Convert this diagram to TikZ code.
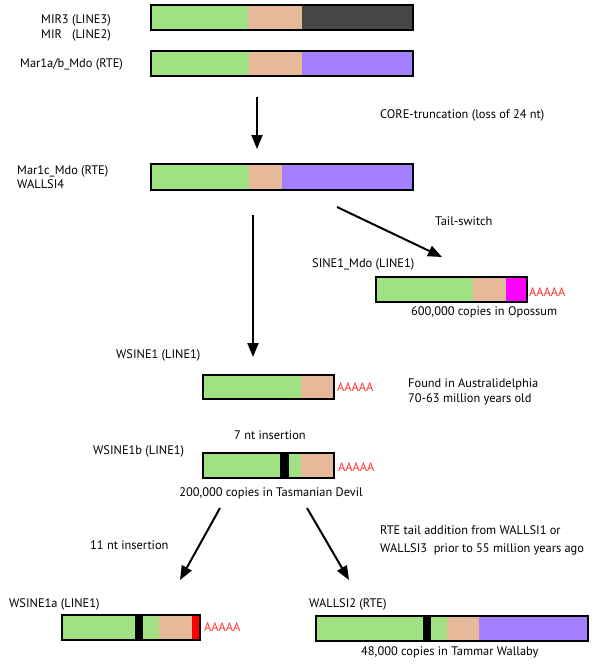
\documentclass[tikz,border=0pt]{standalone}
\usepackage{fontspec}
\setmainfont{PT Sans}
\usetikzlibrary{arrows.meta}
\definecolor{segGreen}{HTML}{A0E183}
\definecolor{segTan}{HTML}{E6BA98}
\definecolor{segGrey}{HTML}{464646}
\definecolor{segPurple}{HTML}{A47FFF}
\definecolor{segPink}{HTML}{FF00FF}
\definecolor{segRed}{HTML}{FF0000}
\definecolor{polyA}{HTML}{FF3030}
\tikzset{
    bar frame/.style={draw=black, line width=1.4pt},
    seg green/.style={fill=segGreen},
    seg tan/.style={fill=segTan},
    seg grey/.style={fill=segGrey},
    seg purple/.style={fill=segPurple},
    seg pink/.style={fill=segPink},
    seg red/.style={fill=segRed},
    seg ins/.style={fill=black},
    arr/.style={-{Triangle[length=14pt,width=11pt]}, line width=2pt},
    lbl/.style={anchor=west, inner sep=0pt},
    polya/.style={lbl, text=polyA},
}
\tikzstyle{every node}=[font=\fontsize{12.4}{14}\selectfont]

\begin{document}
\begin{tikzpicture}[x=1pt, y=-1pt]
        \useasboundingbox (0,0) rectangle (600,664);
        % ancestral elements
        \fill[seg green] (151,5) rectangle (248,30);
        \fill[seg tan] (248,5) rectangle (302,30);
        \fill[seg grey] (302,5) rectangle (413,30);
        \draw[bar frame] (151,5) rectangle (413,30);
        \node[lbl] (mir3) at (41,20) {MIR3 (LINE3)};
        \node[lbl] (mir) at (41,35) {MIR\hphantom{3} (LINE2)};

        \fill[seg green] (151,51) rectangle (249,76);
        \fill[seg tan] (249,51) rectangle (302,76);
        \fill[seg purple] (302,51) rectangle (413,76);
        \draw[bar frame] (151,51) rectangle (413,76);
        \node[lbl] (mar1ab) at (20,64) {Mar1a/b\_Mdo (RTE)};

        \coordinate (core top) at (257,97);
        \coordinate (core bot) at (257,149);
        \draw[arr] (core top) -- (core bot);
        \node[lbl] (core) at (380,115) {CORE-truncation (loss of 24 nt)};

        % truncated RTE
        \fill[seg green] (151,164) rectangle (249,190);
        \fill[seg tan] (249,164) rectangle (282,190);
        \fill[seg purple] (282,164) rectangle (413,190);
        \draw[bar frame] (151,164) rectangle (413,190);
        \node[lbl] (mar1c) at (17,171) {Mar1c\_Mdo (RTE)};
        \node[lbl] (wallsi4) at (17,184) {WALLSI4};

        \coordinate (tail start) at (337,207);
        \coordinate (tail end) at (442,257);
        \draw[arr] (tail start) -- (tail end);
        \node[lbl] (tailsw) at (435,221) {Tail-switch};

        \fill[seg green] (376,277) rectangle (473,302);
        \fill[seg tan] (473,277) rectangle (506,302);
        \fill[seg pink] (506,277) rectangle (527,302);
        \draw[bar frame] (376,277) rectangle (527,302);
        \node[lbl] (sine1) at (312,264) {SINE1\_Mdo (LINE1)};
        \node[polya] (sine1 a) at (529,292) {AAAAA};
        \node[lbl] (opossum) at (411,312) {600,000 copies in Opossum};

        \coordinate (down top) at (253,215);
        \coordinate (down bot) at (253,357);
        \draw[arr] (down top) -- (down bot);

        % WSINE1 family
        \fill[seg green] (203,375) rectangle (301,399);
        \fill[seg tan] (301,375) rectangle (334,399);
        \draw[bar frame] (203,375) rectangle (334,399);
        \node[lbl] (wsine1) at (116,355) {WSINE1 (LINE1)};
        \node[polya] (wsine1 a) at (337,387) {AAAAA};
        \node[lbl] (found) at (408,384) {Found in Australidelphia};
        \node[lbl] (age) at (408,399) {70-63 million years old};

        \node[lbl] (ins7) at (234,435) {7 nt insertion};
        \fill[seg green] (203,453) rectangle (280,478);
        \fill[seg ins] (280,453) rectangle (289,478);
        \fill[seg green] (289,453) rectangle (301,478);
        \fill[seg tan] (301,453) rectangle (334,478);
        \draw[bar frame] (203,453) rectangle (334,478);
        \node[lbl] (wsine1b) at (93,451) {WSINE1b (LINE1)};
        \node[polya] (wsine1b a) at (338,467) {AAAAA};
        \node (devil) at (271,493) {200,000 copies in Tasmanian Devil};

        \coordinate (left top) at (220,508);
        \coordinate (left bot) at (180,580);
        \coordinate (right top) at (307,508);
        \coordinate (right bot) at (349,580);
        \draw[arr] (left top) -- (left bot);
        \draw[arr] (right top) -- (right bot);
        \node[lbl] (ins11) at (90,545) {11 nt insertion};
        \node[lbl] (rte1) at (380,530) {RTE tail addition from WALLSI1 or};
        \node[lbl] (rte2) at (380,549) {WALLSI3\ \ prior to 55 million years ago};

        % derived elements
        \fill[seg green] (62,615) rectangle (135,640);
        \fill[seg ins] (135,615) rectangle (143,640);
        \fill[seg green] (143,615) rectangle (159,640);
        \fill[seg tan] (159,615) rectangle (192,640);
        \fill[seg red] (192,615) rectangle (200,640);
        \draw[bar frame] (62,615) rectangle (200,640);
        \node[lbl] (wsine1a) at (9,604) {WSINE1a (LINE1)};
        \node[polya] (wsine1a a) at (204,627) {AAAAA};

        \fill[seg green] (316,616) rectangle (423,641);
        \fill[seg ins] (423,616) rectangle (431,641);
        \fill[seg green] (431,616) rectangle (447,641);
        \fill[seg tan] (447,616) rectangle (479,641);
        \fill[seg purple] (479,616) rectangle (588,641);
        \draw[bar frame] (316,616) rectangle (588,641);
        \node[lbl] (wallsi2) at (309,604) {WALLSI2 (RTE)};
        \node[lbl] (wallaby) at (361,652) {48,000 copies in Tammar Wallaby};
    \end{tikzpicture}
\end{document}
